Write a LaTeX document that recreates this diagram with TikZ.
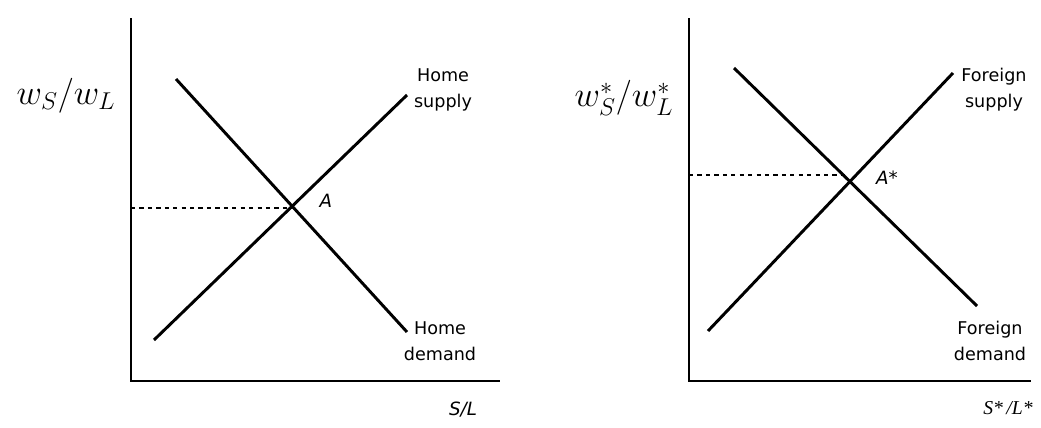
\documentclass[tikz,border=0pt]{standalone}
\usepackage{fontspec}
\setmainfont{DejaVu Sans}
\newfontfamily\serifit{Liberation Serif}
\usetikzlibrary{positioning}
\tikzset{
  axis/.style={line width=1.4pt,color=black},
  curve/.style={line width=2.1pt,color=black},
  guide/.style={dashed,line width=0.8pt,color=black},
  lbl/.style={align=center,font=\fontsize{12.5}{18.5}\selectfont,inner sep=0pt},
  ptlbl/.style={font=\fontsize{13}{15}\selectfont\itshape,inner sep=0pt},
  ylbl/.style={font=\fontsize{23}{27}\selectfont,inner sep=0pt}
}

\begin{document}
\begin{tikzpicture}[x=0.025cm,y=-0.025cm]
  \useasboundingbox (0,0) rectangle (1041,428);
  % home market
  \coordinate (o) at (131,381);
  \coordinate (ytop) at (131,18);
  \coordinate (xend) at (500,381);
  \coordinate (hs0) at (154,340);
  \coordinate (hs1) at (407,95);
  \coordinate (hd0) at (176,79);
  \coordinate (hd1) at (407,332);
  \coordinate (a) at (292,208);
  \coordinate (ay) at (131,208);
  \draw[axis] (ytop)--(o)--(xend);
  \draw[curve] (hs0)--(hs1);
  \draw[curve] (hd0)--(hd1);
  \draw[guide] (ay)--(a);
  \node[ylbl] (wh) at (66,96) {$w_S/w_L$};
  \node[ptlbl] (alab) at (326,201) {A};
  \node[lbl] (hsup) at (443,90) {Home\\supply};
  \node[lbl] (hdem) at (440,341) {Home\\demand};
  \node[ptlbl] (xh) at (463,410) {S/L};
  % foreign market
  \coordinate (of) at (689,381);
  \coordinate (yftop) at (689,18);
  \coordinate (xfend) at (1031,381);
  \coordinate (fs0) at (708,331);
  \coordinate (fs1) at (953,73);
  \coordinate (fd0) at (734,68);
  \coordinate (fd1) at (977,306);
  \coordinate (af) at (848,175);
  \coordinate (afy) at (689,175);
  \draw[axis] (yftop)--(of)--(xfend);
  \draw[curve] (fs0)--(fs1);
  \draw[curve] (fd0)--(fd1);
  \draw[guide] (afy)--(af);
  \node[ylbl] (wf) at (624,98) {$w^*_S/w^*_L$};
  \node[ptlbl] (aflab) at (887,178) {A*};
  \node[lbl] (fsup) at (994,90) {Foreign\\supply};
  \node[lbl] (fdem) at (990,341) {Foreign\\demand};
  \node[inner sep=0pt,font=\fontsize{14}{16}\selectfont\serifit\itshape] (xf) at (1008,408) {S*\,/L*};
\end{tikzpicture}
\end{document}
